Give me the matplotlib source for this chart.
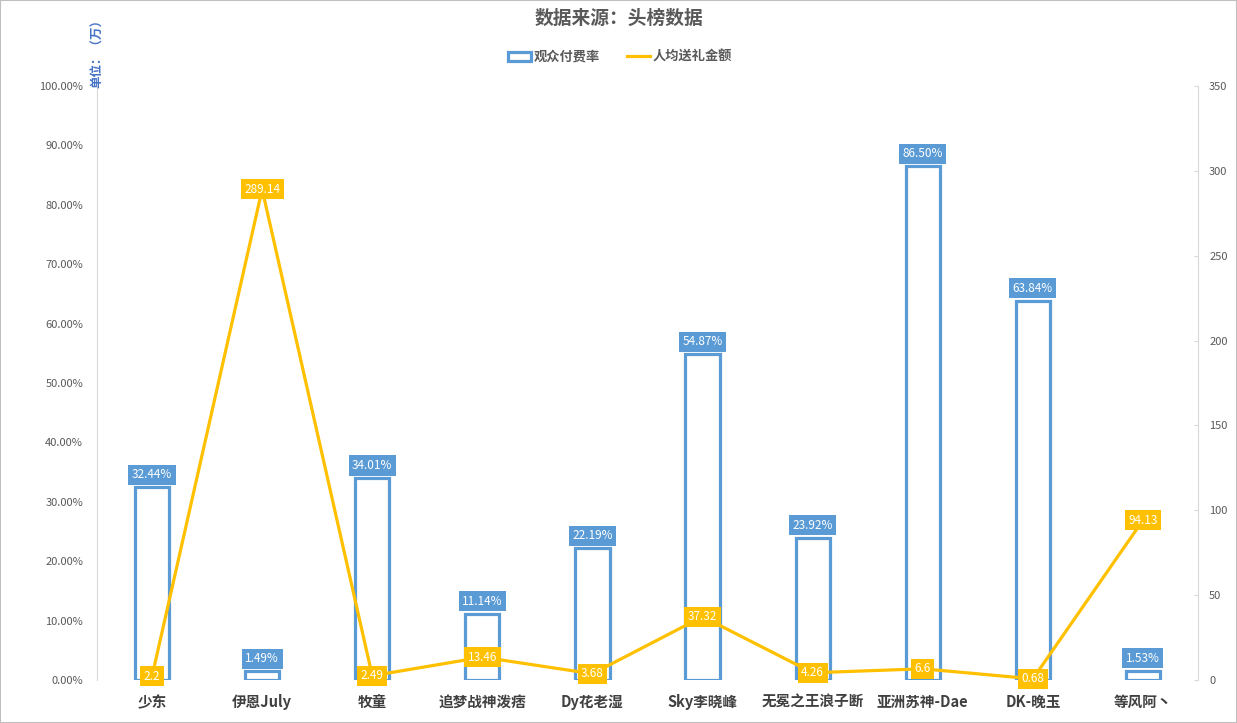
import matplotlib
matplotlib.use("Agg")
import matplotlib.pyplot as plt
from matplotlib.patches import Rectangle, Patch
from matplotlib.lines import Line2D
from matplotlib.ticker import FuncFormatter, MultipleLocator

plt.rcParams['font.family'] = ['Noto Sans CJK SC', 'DejaVu Sans']

# ---- 数据 ----
anchors = ["少东", "伊恩July", "牧童", "追梦战神泼痞", "Dy花老湿",
           "Sky李晓峰", "无冕之王浪子断", "亚洲苏神-Dae", "DK-晚玉", "等风阿丶"]
pay_rate = [32.44, 1.49, 34.01, 11.14, 22.19, 54.87, 23.92, 86.50, 63.84, 1.53]
gift_avg = [2.2, 289.14, 2.49, 13.46, 3.68, 37.32, 4.26, 6.6, 0.68, 94.13]
gift_labels = ["2.2", "289.14", "2.49", "13.46", "3.68", "37.32", "4.26", "6.6", "0.68", "94.13"]

BLUE = "#5B9BD5"
GOLD = "#FFC000"
GRAY = "#595959"
AX_GRAY = "#D9D9D9"

fig = plt.figure(figsize=(12.37, 7.23), dpi=100)
ax = fig.add_axes([97 / 1237, 1 - 680 / 723, 1101 / 1237, 594 / 723])
ax2 = ax.twinx()

x = list(range(len(anchors)))

# 柱：观众付费率（空心）
ax.bar(x, pay_rate, width=0.31, facecolor="white", edgecolor=BLUE, linewidth=2.3, zorder=2)
ax.set_ylim(0, 100)
ax.set_xlim(-0.5, len(anchors) - 0.5)
ax.yaxis.set_major_locator(MultipleLocator(10))
ax.yaxis.set_major_formatter(FuncFormatter(lambda v, p: f"{v:.2f}%"))

for xi, v in zip(x, pay_rate):
    ax.annotate(f"{v:.2f}%", (xi, v), xytext=(0, 9), textcoords="offset points",
                ha="center", va="center", color="white", fontsize=8.5, zorder=5,
                bbox=dict(boxstyle="square,pad=0.3", facecolor=BLUE, edgecolor="none"),
                annotation_clip=False)

# 折线：人均送礼金额
ax2.plot(x, gift_avg, color=GOLD, linewidth=2.3, zorder=3)
ax2.set_ylim(0, 350)
ax2.yaxis.set_major_locator(MultipleLocator(50))
for xi, v, lab in zip(x, gift_avg, gift_labels):
    ax2.annotate(lab, (xi, v), xytext=(0, 0), textcoords="offset points",
                 ha="center", va="center", color="white", fontsize=8.5, zorder=6,
                 bbox=dict(boxstyle="square,pad=0.3", facecolor=GOLD, edgecolor="none"),
                 annotation_clip=False)

# 折线轴在柱轴之上，保证线压在柱上
ax.set_zorder(1)
ax2.set_zorder(2)
ax.patch.set_visible(False)

# 坐标轴样式
for a in (ax, ax2):
    for s in ("top", "bottom"):
        a.spines[s].set_visible(False)
ax.spines["right"].set_visible(False)
ax.spines["left"].set_color(AX_GRAY)
ax2.spines["left"].set_visible(False)
ax2.spines["right"].set_color(AX_GRAY)

ax.tick_params(axis="y", length=0, labelsize=8, labelcolor=GRAY, pad=10)
ax2.tick_params(axis="y", direction="in", length=3, color=AX_GRAY, labelsize=8,
                labelcolor=GRAY, pad=8)
ax.set_xticks(x)
ax.set_xticklabels(anchors, fontsize=10.5, fontweight="bold", color="#404040")
ax.tick_params(axis="x", length=0, pad=10)

# 标题、图例、单位
fig.text(0.5, 1 - 18 / 723, "数据来源：头榜数据", ha="center", va="center",
         fontsize=13.5, fontweight="bold", color=GRAY)
handles = [Patch(facecolor="white", edgecolor=BLUE, linewidth=2.3),
           Line2D([0], [0], color=GOLD, linewidth=2.3)]
fig.legend(handles, ["观众付费率", "人均送礼金额"], loc="center",
           bbox_to_anchor=(620 / 1237, 1 - 57 / 723), ncol=2, frameon=False,
           prop={"size": 9.5, "weight": "bold"}, labelcolor=GRAY,
           handlelength=1.8, handletextpad=0.2, columnspacing=2.0)
fig.text(98 / 1237, 1 - 50 / 723, "单位：（万）", rotation=90, ha="center", va="center",
         fontsize=9, fontweight="bold", color="#4472C4")

# 外框
fig.patches.append(Rectangle((0, 0), 1, 1, transform=fig.transFigure, fill=False,
                             edgecolor="#BFBFBF", linewidth=1.5))

fig.savefig("out.png", dpi=100)
